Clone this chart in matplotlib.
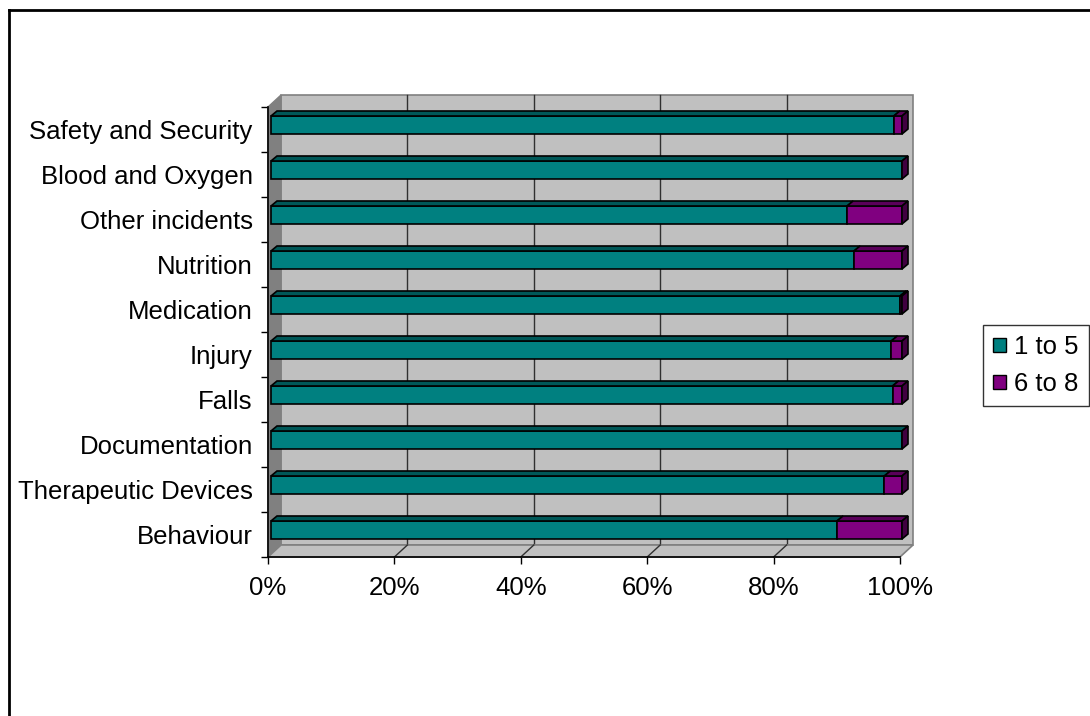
import matplotlib
matplotlib.use("Agg")
import matplotlib.pyplot as plt
from matplotlib.patches import Polygon, Rectangle, Patch
from matplotlib.lines import Line2D

plt.rcParams["font.family"] = ["Liberation Sans", "DejaVu Sans"]

# incident categories, bottom to top
categories = ["Behaviour", "Therapeutic Devices", "Documentation", "Falls",
              "Injury", "Medication", "Nutrition", "Other incidents",
              "Blood and Oxygen", "Safety and Security"]
share_1_to_5 = [89.7, 97.2, 100.0, 98.5, 98.3, 99.7, 92.4, 91.3, 100.0, 98.7]
share_6_to_8 = [10.3, 2.8, 0.0, 1.5, 1.7, 0.3, 7.6, 8.7, 0.0, 1.3]
series_names = ["1 to 5", "6 to 8"]
x_ticks = [0, 20, 40, 60, 80, 100]

W, H = 1090, 716
fig = plt.figure(figsize=(W / 100, H / 100), dpi=100)

# front plane of the plot in pixels
left, right, top, bottom = 268, 900, 107, 557
ax = fig.add_axes([left / W, 1 - bottom / H, (right - left) / W, (bottom - top) / H])
n = len(categories)
ax.set_xlim(0, 100)
ax.set_ylim(-0.5, n - 0.5)

# pixel -> data scale factors
px_x = 100 / (right - left)
px_y = n / (bottom - top)

# wall depth
wdx, wdy = 13 * px_x, 12 * px_y
y0, y1 = -0.5, n - 0.5

wall_grey = "#C0C0C0"
side_grey = "#808080"

# back wall
ax.add_patch(Rectangle((wdx, y0 + wdy), 100, n, facecolor=wall_grey,
                       edgecolor=side_grey, lw=1.2, clip_on=False, zorder=1))
for t in x_ticks[1:-1]:
    ax.plot([t + wdx, t + wdx], [y0 + wdy, y1 + wdy], color="#303030",
            lw=1, clip_on=False, zorder=1.5)
# left side wall
ax.add_patch(Polygon([(0, y0), (wdx, y0 + wdy), (wdx, y1 + wdy), (0, y1)],
                     facecolor=side_grey, edgecolor=side_grey, lw=1,
                     clip_on=False, zorder=2))
# floor
ax.add_patch(Polygon([(0, y0), (100, y0), (100 + wdx, y0 + wdy), (wdx, y0 + wdy)],
                     facecolor=wall_grey, edgecolor=side_grey, lw=1.2,
                     clip_on=False, zorder=2))
for t in x_ticks[1:-1]:
    ax.plot([t, t + wdx], [y0, y0 + wdy], color="#303030", lw=1,
            clip_on=False, zorder=2.2)

# 3D-looking stacked bars
bx, by = 3 * px_x, 4.5 * px_y          # bar front face offset from front plane
bdx, bdy = 6 * px_x, 5 * px_y          # bar depth
bh = 18 * px_y
bar_scale = 631 / 632
front = ["#008080", "#800080"]
topc = ["#005858", "#5A005A"]
sidec = ["#003C3C", "#400040"]

for i in range(n):
    yb = i - bh / 2 + by
    start = 0.0
    for s, vals in enumerate([share_1_to_5, share_6_to_8]):
        w = vals[i] * bar_scale
        if w <= 0:
            continue
        xs = bx + start
        ax.add_patch(Rectangle((xs, yb), w, bh, facecolor=front[s],
                               edgecolor="black", lw=1.2, clip_on=False, zorder=5))
        ax.add_patch(Polygon([(xs, yb + bh), (xs + w, yb + bh),
                              (xs + w + bdx, yb + bh + bdy), (xs + bdx, yb + bh + bdy)],
                             facecolor=topc[s], edgecolor="black", lw=1.2,
                             clip_on=False, zorder=5))
        start += w
    xe = bx + start
    ax.add_patch(Polygon([(xe, yb), (xe + bdx, yb + bdy), (xe + bdx, yb + bh + bdy),
                          (xe, yb + bh)],
                         facecolor=sidec[1], edgecolor="black", lw=1.2,
                         clip_on=False, zorder=5))

# axes, ticks and labels
for sp in ["top", "right"]:
    ax.spines[sp].set_visible(False)
ax.spines["left"].set_linewidth(1.2)
ax.spines["bottom"].set_linewidth(1.2)
ax.spines["left"].set_zorder(6)
ax.spines["bottom"].set_zorder(6)
ax.patch.set_visible(False)

ax.set_xticks(x_ticks)
ax.set_xticklabels([f"{t}%" for t in x_ticks], fontsize=18.5)
ax.tick_params(axis="x", length=5, width=1, pad=9, direction="out")

ax.set_yticks([k - 0.5 for k in range(n + 1)])
ax.set_yticklabels([])
ax.tick_params(axis="y", which="major", length=5, width=1, direction="out")
ax.set_yticks(range(n), minor=True)
ax.set_yticklabels(categories, minor=True, fontsize=18.5)
ax.tick_params(axis="y", which="minor", length=0, pad=11)

# legend
handles = [Patch(facecolor=front[s], edgecolor="black", label=series_names[s])
           for s in range(2)]
fig.legend(handles=handles, loc="upper left", borderaxespad=0,
           bbox_to_anchor=(983 / W, 1 - 325 / H), frameon=True, fancybox=False,
           edgecolor="black", fontsize=18.5, handlelength=0.5, handleheight=0.5,
           handletextpad=0.3, borderpad=0.4, labelspacing=0.5)

# outer chart border
fig.add_artist(Line2D([9 / W, 9 / W], [0, 1 - 10 / H], color="black", lw=2))
fig.add_artist(Line2D([9 / W, 1], [1 - 10 / H, 1 - 10 / H], color="black", lw=2))

fig.savefig("out.png", dpi=100, facecolor="white")
